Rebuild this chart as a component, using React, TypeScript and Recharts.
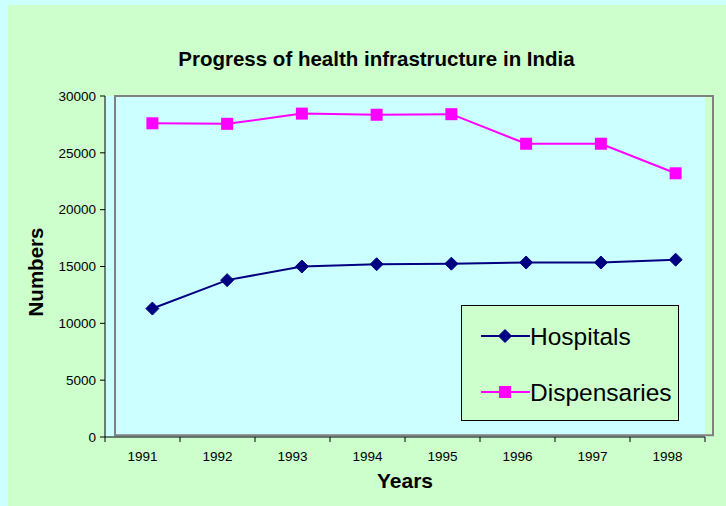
import {
  LineChart,
  Line,
  XAxis,
  YAxis,
  Legend,
  ReferenceArea,
  ReferenceLine,
} from "recharts";

const years = ["1991", "1992", "1993", "1994", "1995", "1996", "1997", "1998"];
const hospitals = [11300, 13800, 15000, 15200, 15250, 15350, 15350, 15600];
const dispensaries = [27600, 27550, 28450, 28350, 28400, 25800, 25800, 23200];
const yTicks = [0, 5000, 10000, 15000, 20000, 25000, 30000];

const data = years.map((year, i) => ({
  year,
  pos: i + 0.5,
  hospitals: hospitals[i],
  dispensaries: dispensaries[i],
}));

// tick marks on the category edges, labels in between
const xTicks: number[] = [];
for (let i = 0; i <= years.length * 2; i++) xTicks.push(i / 2);

const FONT = "'Liberation Sans', Arial, sans-serif";
const NAVY = "#000080";
const MAGENTA = "#FF00FF";

function XTick(props: any) {
  const { x, y, payload } = props;
  const v = payload.value as number;
  if (Number.isInteger(v)) {
    return <line x1={x} y1={y} x2={x} y2={y + 5} stroke="#000" strokeWidth={1} />;
  }
  return (
    <text x={x} y={y + 24} textAnchor="middle" fontSize={13.5} fontFamily={FONT} fill="#000">
      {years[Math.floor(v)]}
    </text>
  );
}

function Diamond(props: any) {
  const { cx, cy } = props;
  if (cx == null || cy == null) return null;
  const r = 6.5;
  return (
    <path
      d={`M${cx},${cy - r}L${cx + r},${cy}L${cx},${cy + r}L${cx - r},${cy}Z`}
      fill={NAVY}
      stroke={NAVY}
    />
  );
}

function Square(props: any) {
  const { cx, cy } = props;
  if (cx == null || cy == null) return null;
  const r = 6;
  return <rect x={cx - r} y={cy - r} width={r * 2} height={r * 2} fill={MAGENTA} />;
}

function LegendBox() {
  return (
    <svg width={218} height={116} style={{ display: "block" }}>
      <rect x={0.5} y={0.5} width={217} height={115} fill="#CCFFCC" stroke="#000" />
      <line x1={20} y1={31} x2={69} y2={31} stroke={NAVY} strokeWidth={2} />
      <Diamond cx={44} cy={31} />
      <text x={69} y={40} fontSize={24.5} fontFamily={FONT} fill="#000">
        Hospitals
      </text>
      <line x1={20} y1={87} x2={69} y2={87} stroke={MAGENTA} strokeWidth={2} />
      <Square cx={44} cy={87} />
      <text x={69} y={96} fontSize={24.5} fontFamily={FONT} fill="#000">
        Dispensaries
      </text>
    </svg>
  );
}

export default function App() {
  return (
    <div
      style={{
        position: "absolute",
        left: 0,
        top: 0,
        width: 726,
        height: 506,
        background: "#CCFFFF",
        fontFamily: FONT,
      }}
    >
      <div
        style={{
          position: "absolute",
          left: 8,
          top: 5,
          width: 718,
          height: 501,
          background: "#CCFFCC",
        }}
      />
      <div
        style={{
          position: "absolute",
          left: 0,
          top: 47,
          width: 753,
          textAlign: "center",
          fontSize: 20.5,
          fontWeight: "bold",
        }}
      >
        Progress of health infrastructure in India
      </div>
      <div
        style={{
          position: "absolute",
          left: 0,
          top: 469,
          width: 810,
          textAlign: "center",
          fontSize: 21,
          fontWeight: "bold",
        }}
      >
        Years
      </div>
      <div
        style={{
          position: "absolute",
          left: 36,
          top: 272,
          transform: "translate(-50%, -50%) rotate(-90deg)",
          fontSize: 20.5,
          fontWeight: "bold",
          whiteSpace: "nowrap",
        }}
      >
        Numbers
      </div>
      <div style={{ position: "absolute", left: 0, top: 0 }}>
        <LineChart
          width={726}
          height={506}
          data={data}
          margin={{ top: 96, right: 13, left: 45, bottom: 39 }}
        >
          <XAxis
            xAxisId="axis"
            type="number"
            dataKey="pos"
            domain={[0, 8]}
            ticks={xTicks}
            interval={0}
            padding={{ left: 0, right: 8 }}
            axisLine={false}
            tickLine={false}
            tickSize={0}
            tickMargin={0}
            height={30}
            tick={<XTick />}
          />
          <XAxis
            xAxisId="data"
            type="number"
            dataKey="pos"
            domain={[0, 8]}
            padding={{ left: 10, right: 0 }}
            hide
          />
          <YAxis
            domain={[0, 30000]}
            ticks={yTicks}
            width={60}
            axisLine={{ stroke: "#000" }}
            tickLine={{ stroke: "#000" }}
            tickSize={5}
            tickMargin={4}
            tick={{ fontSize: 13.5, fontFamily: FONT, fill: "#000" }}
          />
          <ReferenceArea
            xAxisId="axis"
            x1={0}
            x2={8}
            y1={0}
            y2={30000}
            fill="#CCFFFF"
            fillOpacity={1}
            stroke="none"
          />
          <ReferenceArea
            xAxisId="data"
            x1={0}
            x2={8}
            y1={150}
            y2={30000}
            fill="none"
            stroke="#808080"
            strokeWidth={2}
          />
          <ReferenceLine
            xAxisId="axis"
            segment={[
              { x: 0, y: 0 },
              { x: 8, y: 0 },
            ]}
            stroke="#000"
            strokeWidth={1}
          />
          <Line
            xAxisId="data"
            dataKey="hospitals"
            name="Hospitals"
            stroke={NAVY}
            strokeWidth={2}
            dot={<Diamond />}
            activeDot={false}
            isAnimationActive={false}
          />
          <Line
            xAxisId="data"
            dataKey="dispensaries"
            name="Dispensaries"
            stroke={MAGENTA}
            strokeWidth={2}
            dot={<Square />}
            activeDot={false}
            isAnimationActive={false}
          />
          <Legend
            layout="vertical"
            align="center"
            verticalAlign="middle"
            content={<LegendBox />}
            wrapperStyle={{ position: "absolute", left: 461, top: 305, width: 218, height: 116 }}
          />
        </LineChart>
      </div>
    </div>
  );
}
